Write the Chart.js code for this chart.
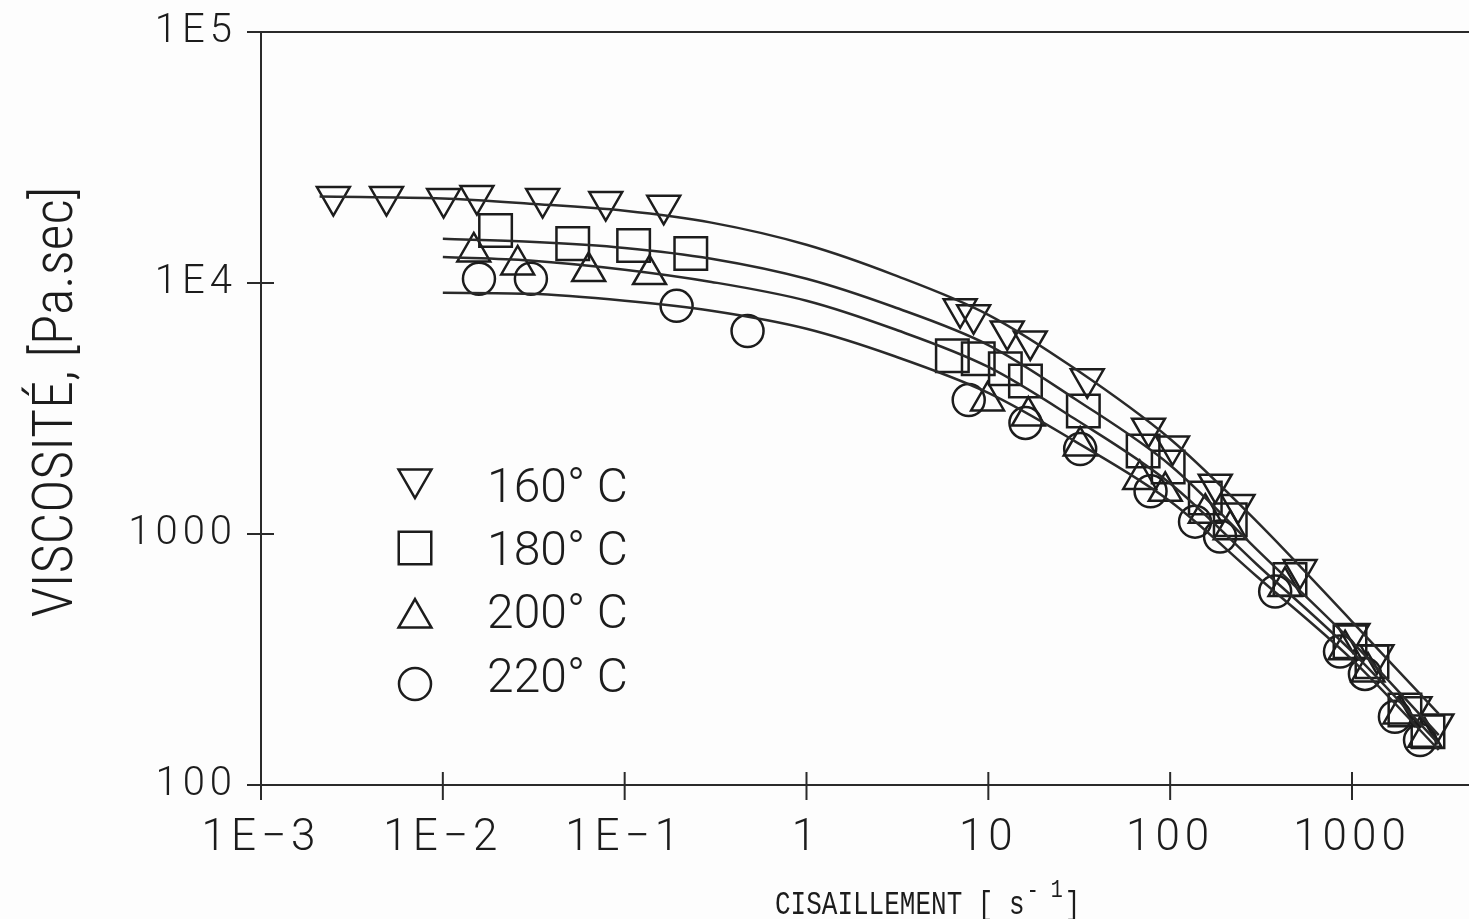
<!DOCTYPE html>
<html>
<head>
<meta charset="utf-8">
<title>Viscosité</title>
<script src="https://cdn.jsdelivr.net/npm/chart.js@4.4.0/dist/chart.umd.min.js"></script>
<style>
  html, body { margin: 0; padding: 0; background: #fdfdfd; }
  canvas { display: block; }
</style>
</head>
<body>
<canvas id="viscChart" width="1469" height="919"></canvas>
<script>
// decade ticks
const xTicks = [1e-3, 1e-2, 1e-1, 1, 10, 100, 1000];
const xTickLabels = ['1E\u22123', '1E\u22122', '1E\u22121', '1', '10', '100', '1000'];
const yTicks = [100, 1000, 1e4, 1e5];
const yTickLabels = ['100', '1000', '1E4', '1E5'];

const seriesLabels = ['160\u00b0 C', '180\u00b0 C', '200\u00b0 C', '220\u00b0 C'];

// measured viscosity vs shear rate
const shear160 = [0.0025, 0.0049, 0.0101, 0.0154, 0.0354, 0.0787, 0.164, 7.0, 8.3, 12.7, 17, 35, 76, 103, 177, 236, 518, 1012, 1372, 2220, 2930];
const visc160 = [22100, 22100, 21700, 22300, 21700, 21100, 20400, 7890, 7470, 6440, 5880, 4150, 2640, 2240, 1580, 1310, 722, 401, 330, 205, 175];

const shear180 = [0.0195, 0.0518, 0.112, 0.231, 6.34, 8.8, 12.4, 16.0, 33.3, 71, 97.5, 156, 214, 456, 975, 1288, 1955, 2617];
const visc180 = [16200, 14350, 14100, 13100, 5130, 4990, 4550, 4070, 3090, 2140, 1850, 1390, 1140, 659, 372, 310, 199, 163];

const shear200 = [0.0148, 0.0258, 0.0634, 0.137, 9.9, 16.6, 32, 68, 94, 156, 214, 428, 916, 1224, 1836, 2518];
const visc200 = [13300, 11800, 11100, 10800, 3390, 2950, 2240, 1650, 1480, 1210, 1040, 618, 346, 282, 192, 155];

const shear220 = [0.0158, 0.0305, 0.193, 0.474, 7.8, 16.0, 32, 78, 137, 188, 378, 859, 1178, 1722, 2366];
const visc220 = [10400, 10400, 8110, 6440, 3420, 2770, 2180, 1480, 1120, 977, 590, 340, 277, 187, 151];

// fitted curves
const fitShear160 = [0.0021, 0.01, 0.03, 0.1, 0.3, 1, 3, 10, 30, 100, 300, 1000, 3000];
const fit160 = [22100, 21700, 20700, 19400, 17400, 14200, 10800, 7470, 4550, 2390, 1120, 448, 192];
const fitShear = [0.01, 0.03, 0.1, 0.3, 1, 3, 10, 30, 100, 300, 1000, 3000];
const fit180 = [15000, 14600, 13800, 12500, 10400, 8040, 5660, 3450, 1880, 867, 372, 158];
const fit200 = [12700, 12300, 11300, 10100, 8500, 6570, 4630, 2870, 1590, 756, 340, 146];
const fit220 = [9140, 9060, 8500, 7750, 6570, 5130, 3650, 2340, 1350, 677, 316, 138];

const ink = '#1c1c1c';
const markers = [
  { style: 'triangle', rotation: 180, radius: 19 },
  { style: 'rect', rotation: 0, radius: 23 },
  { style: 'triangle', rotation: 0, radius: 19 },
  { style: 'circle', rotation: 0, radius: 16 }
];

const pairs = (xs, ys) => xs.map((x, i) => ({ x: x, y: ys[i] }));

function fitLine(xs, ys) {
  return {
    data: pairs(xs, ys),
    showLine: true,
    borderColor: '#2a2a2a',
    borderWidth: 2.5,
    pointRadius: 0,
    cubicInterpolationMode: 'monotone',
    fill: false
  };
}

function pointSet(xs, ys, m) {
  return {
    data: pairs(xs, ys),
    showLine: false,
    pointStyle: m.style,
    rotation: m.rotation,
    pointRadius: m.radius,
    pointBorderWidth: 2.5,
    pointBorderColor: ink,
    pointBackgroundColor: 'rgba(0,0,0,0)'
  };
}

// frame, crossing ticks, titles and the legend box inside the plot
const paperPlugin = {
  id: 'paper',
  beforeDraw(chart) {
    chart.ctx.letterSpacing = '5px';
  },
  afterDraw(chart) {
    const { ctx, chartArea: a, scales: { x, y } } = chart;
    ctx.save();
    ctx.letterSpacing = '0px';
    ctx.strokeStyle = '#2a2a2a';
    ctx.lineWidth = 2;
    ctx.beginPath();
    ctx.moveTo(a.left - 13, a.top); ctx.lineTo(a.right, a.top);
    ctx.moveTo(a.left, a.top); ctx.lineTo(a.left, a.bottom);
    ctx.moveTo(a.left - 13, a.bottom); ctx.lineTo(a.right, a.bottom);
    yTicks.forEach(v => {
      const py = y.getPixelForValue(v);
      ctx.moveTo(a.left - 14, py); ctx.lineTo(a.left + 13, py);
    });
    xTicks.forEach(v => {
      const px = x.getPixelForValue(v);
      ctx.moveTo(px, a.bottom - 13); ctx.lineTo(px, a.bottom + 15);
    });
    ctx.stroke();

    ctx.fillStyle = ink;

    // y title
    ctx.save();
    ctx.translate(58, 402);
    ctx.rotate(-Math.PI / 2);
    ctx.textAlign = 'center';
    ctx.textBaseline = 'middle';
    ctx.font = '300 56px "Roboto Condensed", "Liberation Sans Narrow", "DejaVu Sans Condensed", sans-serif';
    ctx.fillText('VISCOSIT\u00c9, [Pa.sec]', 0, 0);
    ctx.restore();

    // x title with superscript exponent, stretched to the tall plotter letters
    ctx.save();
    ctx.translate(775, 914);
    ctx.scale(1, 1.3);
    ctx.textAlign = 'left';
    ctx.textBaseline = 'alphabetic';
    ctx.font = '26px "Liberation Mono", "DejaVu Sans Mono", monospace';
    let tx = 0;
    const main = 'CISAILLEMENT [ s';
    ctx.fillText(main, tx, 0);
    tx += ctx.measureText(main).width + 2;
    ctx.font = '20px "Liberation Mono", "DejaVu Sans Mono", monospace';
    ctx.fillText('-', tx, -12);
    tx += ctx.measureText('- ').width;
    ctx.fillText('1', tx, -13);
    tx += ctx.measureText('1').width + 2;
    ctx.font = '26px "Liberation Mono", "DejaVu Sans Mono", monospace';
    ctx.fillText(']', tx, 0);
    ctx.restore();

    // legend
    const rows = [479, 548, 618, 684];
    const textBase = [502, 565, 628, 692];
    ctx.lineWidth = 2.5;
    ctx.strokeStyle = ink;
    ctx.font = '300 48px Roboto, "Liberation Sans", sans-serif';
    rows.forEach((ry, i) => {
      const m = markers[i];
      ctx.fillStyle = 'rgba(0,0,0,0)';
      Chart.helpers.drawPoint(ctx, { pointStyle: m.style, rotation: m.rotation, radius: m.radius, borderWidth: 2.5 }, 415, ry);
      ctx.fillStyle = ink;
      ctx.fillText(seriesLabels[i], 487, textBase[i]);
    });
    ctx.restore();
  }
};

const ctx = document.getElementById('viscChart').getContext('2d');

new Chart(ctx, {
  type: 'scatter',
  data: {
    datasets: [
      fitLine(fitShear160, fit160),
      fitLine(fitShear, fit180),
      fitLine(fitShear, fit200),
      fitLine(fitShear, fit220),
      pointSet(shear160, visc160, markers[0]),
      pointSet(shear180, visc180, markers[1]),
      pointSet(shear200, visc200, markers[2]),
      pointSet(shear220, visc220, markers[3])
    ]
  },
  options: {
    responsive: false,
    animation: false,
    devicePixelRatio: 1,
    layout: { autoPadding: false, padding: { top: 32, right: 0, bottom: 0, left: 0 } },
    plugins: {
      legend: { display: false },
      tooltip: { enabled: false }
    },
    scales: {
      x: {
        type: 'logarithmic',
        min: 1e-3,
        max: 4400,
        afterBuildTicks: s => { s.ticks = xTicks.map(v => ({ value: v })); },
        afterFit: s => { s.height = 134; s.paddingLeft = 0; s.paddingRight = 0; },
        grid: { display: false, drawTicks: false },
        border: { display: false },
        ticks: {
          autoSkip: false,
          maxRotation: 0,
          padding: 28,
          color: ink,
          font: { family: 'Roboto, "Liberation Sans", sans-serif', size: 44, weight: 300 },
          callback: (v, i) => xTickLabels[i]
        }
      },
      y: {
        type: 'logarithmic',
        min: 100,
        max: 1e5,
        afterBuildTicks: s => { s.ticks = yTicks.map(v => ({ value: v })); },
        afterFit: s => { s.width = 261; s.paddingTop = 0; s.paddingBottom = 0; },
        grid: { display: false, drawTicks: false },
        border: { display: false },
        ticks: {
          autoSkip: false,
          padding: 24,
          color: ink,
          font: { family: 'Roboto, "Liberation Sans", sans-serif', size: 40, weight: 300 },
          callback: (v, i) => yTickLabels[i]
        }
      }
    }
  },
  plugins: [paperPlugin]
});
</script>
</body>
</html>
